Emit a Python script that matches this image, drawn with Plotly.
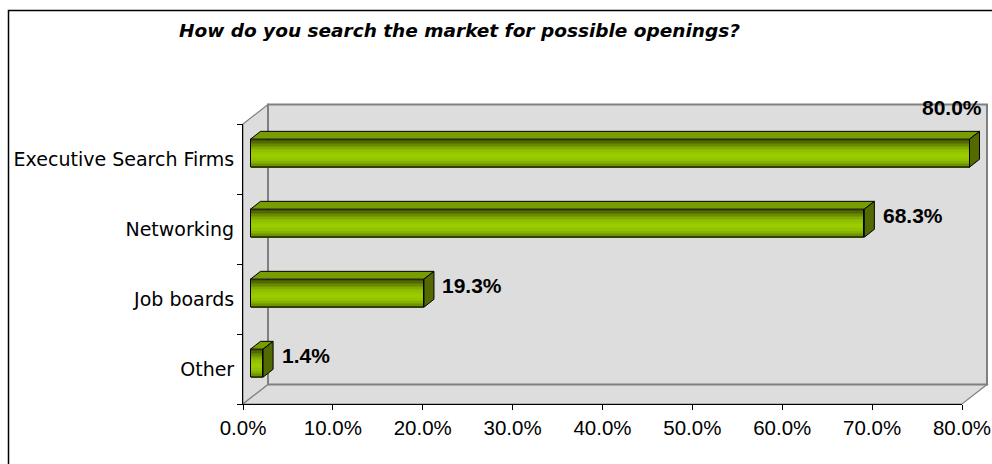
import numpy as np
import plotly.graph_objects as go

# ---- data -------------------------------------------------------------
categories = ["Other", "Job boards", "Networking", "Executive Search Firms"]
shares = [1.4, 19.3, 68.3, 80.0]
x_ticks = [0, 10, 20, 30, 40, 50, 60, 70, 80]
x_tick_labels = [f"{t:.1f}%" for t in x_ticks]
title_text = "How do you search the market for possible openings?"

# ---- geometry (pixels on a 992 x 464 page) ---------------------------
W, H = 992, 464
AX_LEFT, AX_RIGHT = 243, 962      # front x axis (0% .. 80%)
AX_TOP, AX_BOTTOM = 124, 404      # front y axis
X_MAX = 80
PX_X = (AX_RIGHT - AX_LEFT) / X_MAX
PX_Y = (AX_BOTTOM - AX_TOP) / len(categories)
DEPTH_X, DEPTH_Y = 25, 19.5       # 3-D depth of the walls
BAR_D0, BAR_D1 = 0.3, 0.7         # bar front / back as fraction of depth
BAR_H = 0.4                       # bar thickness, in category units
PAD = 3

def fx(px):
    return px / PX_X

def fy(px):
    return px / PX_Y

# range of the hidden "scene" subplot that holds walls and bars
sx0, sx1 = AX_LEFT - PAD, AX_RIGHT + DEPTH_X + PAD
sy0, sy1 = AX_TOP - DEPTH_Y - PAD, AX_BOTTOM + PAD
scene_xrange = [fx(sx0 - AX_LEFT), fx(sx1 - AX_LEFT)]
scene_yrange = [-0.5 - fy(sy1 - AX_BOTTOM), -0.5 + fy(AX_BOTTOM - sy0)]

wdx, wdy = fx(DEPTH_X), fy(DEPTH_Y)
y_lo, y_hi = -0.5, len(categories) - 0.5

fig = go.Figure()

# ---- walls and floor --------------------------------------------------
WALL = "#dddddd"
EDGE = "#808080"
def poly(pts):
    return "M " + " L ".join(f"{a},{b}" for a, b in pts) + " Z"

shapes = []
# side wall
shapes.append(dict(type="path", xref="x", yref="y", layer="below",
                   path=poly([(0, y_lo), (0, y_hi), (wdx, y_hi + wdy), (wdx, y_lo + wdy)]),
                   fillcolor=WALL, line=dict(color=EDGE, width=1.2)))
# floor
shapes.append(dict(type="path", xref="x", yref="y", layer="below",
                   path=poly([(0, y_lo), (X_MAX, y_lo), (X_MAX + wdx, y_lo + wdy), (wdx, y_lo + wdy)]),
                   fillcolor=WALL, line=dict(color=EDGE, width=1.2)))
# back wall
shapes.append(dict(type="rect", xref="x", yref="y", layer="below",
                   x0=wdx, x1=X_MAX + wdx, y0=y_lo + wdy, y1=y_hi + wdy,
                   fillcolor=WALL, line=dict(color=EDGE, width=2)))

# ---- bars -------------------------------------------------------------
fdx, fdy = fx(DEPTH_X * BAR_D0), fy(DEPTH_Y * BAR_D0)
ddx, ddy = fx(DEPTH_X * (BAR_D1 - BAR_D0)), fy(DEPTH_Y * (BAR_D1 - BAR_D0))
ypos = [i + fdy for i in range(len(categories))]
base = [fdx] * len(categories)

def hex2rgb(h):
    h = h.lstrip("#")
    return np.array([int(h[i:i + 2], 16) for i in (0, 2, 4)], float)

# vertical shading of the front face, top -> bottom
stops = [(0.0, "#3c4f00"), (0.12, "#5a7400"), (0.35, "#8ab800"),
         (0.55, "#9ccf00"), (0.75, "#90c000"), (0.9, "#729800"), (1.0, "#5a7800")]
def shade(t):
    for (t0, c0), (t1, c1) in zip(stops[:-1], stops[1:]):
        if t0 <= t <= t1:
            a = (t - t0) / (t1 - t0)
            c = hex2rgb(c0) * (1 - a) + hex2rgb(c1) * a
            return "rgb(%d,%d,%d)" % tuple(c.round())
    return stops[-1][1]

N_STRIPS = 18
sh = BAR_H / N_STRIPS
for k in range(N_STRIPS):
    t = (k + 0.5) / N_STRIPS
    fig.add_trace(go.Bar(
        orientation="h", x=shares, base=base,
        y=[p + BAR_H / 2 - t * BAR_H for p in ypos],
        width=sh * 1.15, marker=dict(color=shade(t), line=dict(width=0)),
        hoverinfo="skip", showlegend=False))

# outline of the front face
fig.add_trace(go.Bar(orientation="h", x=shares, base=base, y=ypos, width=BAR_H,
                     marker=dict(color="rgba(0,0,0,0)", line=dict(color="black", width=1)),
                     hoverinfo="skip", showlegend=False))

top_x, top_y, side_x, side_y = [], [], [], []
for v, p in zip(shares, ypos):
    xa, xb = fdx, fdx + v
    yt, yb = p + BAR_H / 2, p - BAR_H / 2
    top_x += [xa, xb, xb + ddx, xa + ddx, xa, None]
    top_y += [yt, yt, yt + ddy, yt + ddy, yt, None]
    side_x += [xb, xb, xb + ddx, xb + ddx, xb, None]
    side_y += [yb, yt, yt + ddy, yb + ddy, yb, None]

fig.add_trace(go.Scatter(x=top_x, y=top_y, mode="lines", fill="toself",
                         fillcolor="#789d00", line=dict(color="black", width=1),
                         hoverinfo="skip", showlegend=False))
fig.add_trace(go.Scatter(x=side_x, y=side_y, mode="lines", fill="toself",
                         fillcolor="#536a00", line=dict(color="black", width=1),
                         hoverinfo="skip", showlegend=False))

# ---- value labels -----------------------------------------------------
annotations = []
label_font = dict(family="Liberation Sans, Arial, sans-serif", size=21, color="black", weight="bold")
for i, v in enumerate(shares):
    txt = f"{v:.1f}%"
    if v >= X_MAX:
        # no room past the bar end: lift the label above it
        annotations.append(dict(x=v, y=i, xref="x", yref="y", text=txt, showarrow=False,
                                xanchor="left", yanchor="middle", xshift=-42, yshift=51.5,
                                font=label_font))
    else:
        annotations.append(dict(x=v, y=i, xref="x", yref="y", text=txt, showarrow=False,
                                xanchor="left", yanchor="middle", xshift=24, yshift=13.5,
                                font=label_font))

# title
annotations.append(dict(x=459 / W, y=1 - 30 / H, xref="paper", yref="paper",
                        text=title_text, showarrow=False, xanchor="center", yanchor="middle",
                        font=dict(family="DejaVu Sans", size=18.5, color="black",
                                  weight="bold", style="italic")))

# outer frame of the chart
shapes.append(dict(type="rect", xref="paper", yref="paper", layer="above",
                   x0=8.5 / W, x1=1.02, y0=-0.02, y1=1 - 10.5 / H,
                   line=dict(color="black", width=1.5), fillcolor="rgba(0,0,0,0)"))

# front axes: carry the category names and ticks
fig.add_trace(go.Scatter(x=shares, y=categories, mode="markers",
                         marker=dict(opacity=0, size=1), xaxis="x2", yaxis="y2",
                         hoverinfo="skip", showlegend=False))

fig.update_layout(
    width=W, height=H,
    margin=dict(l=0, r=0, t=0, b=0),
    paper_bgcolor="white", plot_bgcolor="rgba(0,0,0,0)",
    barmode="overlay", bargap=0,
    shapes=shapes, annotations=annotations,
    xaxis=dict(domain=[sx0 / W, sx1 / W], range=scene_xrange, visible=False,
               fixedrange=True, anchor="y", automargin=False),
    yaxis=dict(domain=[1 - sy1 / H, 1 - sy0 / H], range=scene_yrange, visible=False,
               fixedrange=True, anchor="x", automargin=False),
    xaxis2=dict(domain=[AX_LEFT / W, AX_RIGHT / W], range=[0, X_MAX], anchor="y2",
                tickvals=x_ticks, ticktext=x_tick_labels, ticks="outside", ticklen=5,
                tickcolor="black", showline=True, linecolor="black", linewidth=1,
                showgrid=False, zeroline=False, automargin=False, fixedrange=True,
                tickfont=dict(family="Liberation Sans, Arial, sans-serif", size=20.5, color="black")),
    yaxis2=dict(domain=[1 - AX_BOTTOM / H, 1 - AX_TOP / H], range=[-0.5, len(categories) - 0.5],
                anchor="x2", type="category", categoryorder="array", categoryarray=categories,
                tickson="boundaries", ticks="outside", ticklen=5, tickcolor="black",
                showline=True, linecolor="black", linewidth=1, showgrid=False, zeroline=False,
                automargin=False, fixedrange=True, ticklabelstandoff=4,
                tickfont=dict(family="DejaVu Sans", size=19, color="black")),
)

fig.write_html("out.html")
